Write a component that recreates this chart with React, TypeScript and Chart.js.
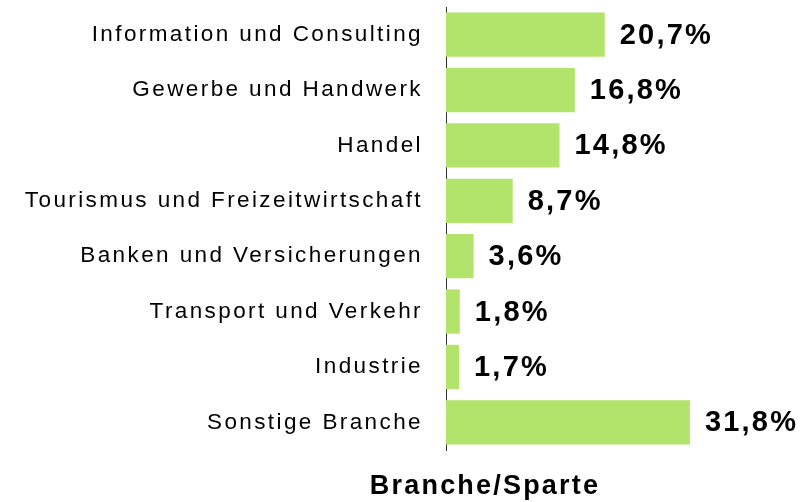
import { useEffect, useRef } from 'react';
import { Chart, registerables } from 'chart.js';

Chart.register(...registerables);

const categories = [
  'Information und Consulting',
  'Gewerbe und Handwerk',
  'Handel',
  'Tourismus und Freizeitwirtschaft',
  'Banken und Versicherungen',
  'Transport und Verkehr',
  'Industrie',
  'Sonstige Branche',
];
const values = [20.7, 16.8, 14.8, 8.7, 3.6, 1.8, 1.7, 31.8];
const axisTitle = 'Branche/Sparte';

const FONT = "Arial, 'Liberation Sans', sans-serif";
const BAR_COLOR = '#b2e46b';

const fmt = (v: number) => v.toFixed(1).replace('.', ',') + '%';

const spacingPlugin = {
  id: 'spacing',
  beforeDraw(chart: any) {
    chart.ctx.letterSpacing = '2.4px';
  },
};

const valueLabelPlugin = {
  id: 'valueLabels',
  afterDatasetsDraw(chart: any) {
    const ctx = chart.ctx;
    const meta = chart.getDatasetMeta(0);
    ctx.save();
    ctx.letterSpacing = '2.2px';
    ctx.font = `bold 29px ${FONT}`;
    ctx.fillStyle = '#000';
    ctx.textAlign = 'left';
    ctx.textBaseline = 'middle';
    meta.data.forEach((bar: any, i: number) => {
      ctx.fillText(fmt(values[i]), bar.x + 15, bar.y + 1);
    });
    ctx.restore();
  },
  afterDraw(chart: any) {
    const ctx = chart.ctx;
    const area = chart.chartArea;
    ctx.save();
    ctx.letterSpacing = '2.2px';
    ctx.font = `bold 27px ${FONT}`;
    ctx.fillStyle = '#000';
    ctx.textAlign = 'center';
    ctx.textBaseline = 'alphabetic';
    ctx.fillText(axisTitle, area.left + 39, area.bottom + 44);
    ctx.restore();
  },
};

export default function App() {
  const ref = useRef<HTMLCanvasElement | null>(null);
  useEffect(() => {
    if (!ref.current) return;
    const chart = new Chart(ref.current, {
      type: 'bar',
      data: {
        labels: categories,
        datasets: [
          {
            data: values,
            backgroundColor: BAR_COLOR,
            borderWidth: 0,
            barPercentage: 0.8,
            categoryPercentage: 1,
          },
        ],
      },
      options: {
        indexAxis: 'y',
        animation: false,
        responsive: true,
        maintainAspectRatio: false,
        layout: { padding: { top: 7, bottom: 52, left: 0, right: 10 } },
        plugins: {
          legend: { display: false },
          tooltip: { enabled: false },
          title: { display: false },
        },
        scales: {
          x: {
            display: false,
            min: 0,
            max: 45.5,
          },
          y: {
            grid: { display: false, drawTicks: false },
            border: { display: true, color: '#333', width: 1 },
            ticks: {
              color: '#000',
              padding: 23,
              font: { family: FONT, size: 22.5 },
            },
            afterFit(scale: any) {
              scale.width = 446;
              scale.paddingTop = 0;
              scale.paddingBottom = 0;
            },
          },
        },
      },
      plugins: [spacingPlugin, valueLabelPlugin],
    });
    return () => chart.destroy();
  }, []);
  return (
    <div style={{ position: 'absolute', left: 0, top: 0, width: 805, height: 502, background: '#fff' }}>
      <canvas ref={ref} />
    </div>
  );
}
